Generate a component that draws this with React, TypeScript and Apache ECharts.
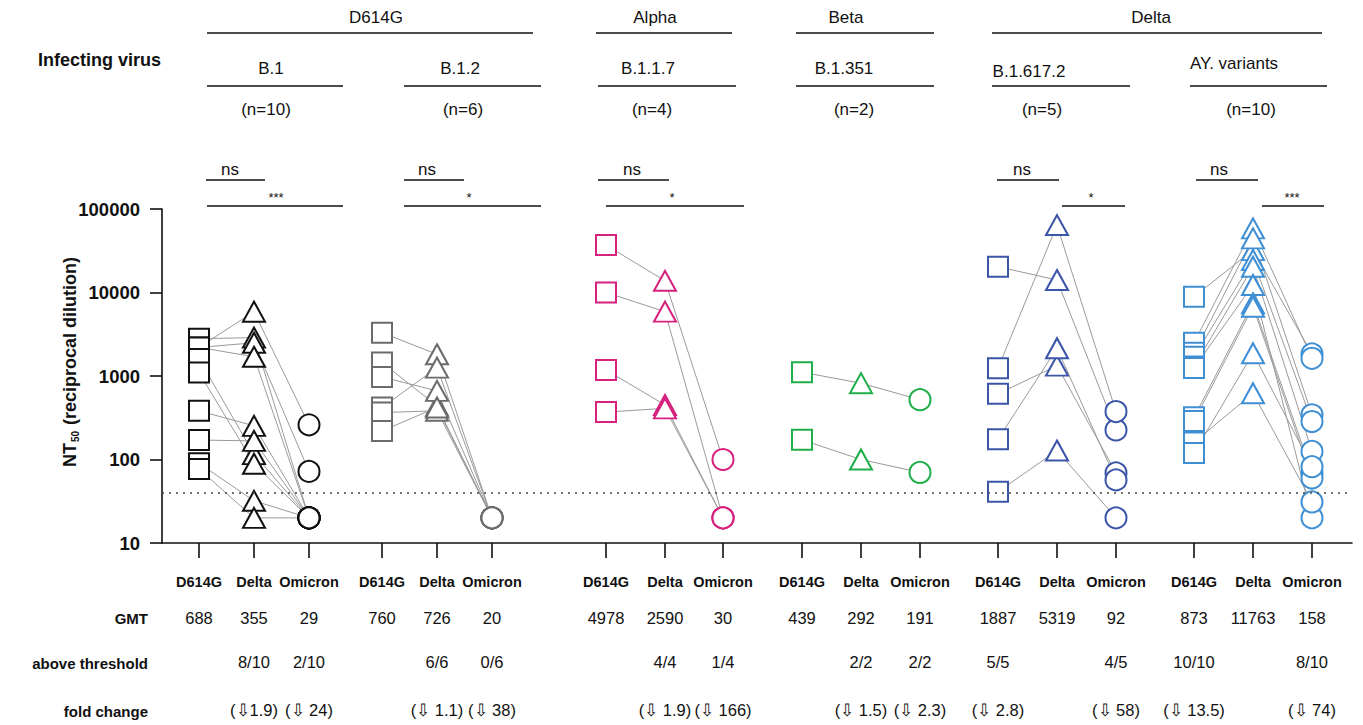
import React, { useEffect, useRef } from 'react';
import * as echarts from 'echarts';

// ---------- data ----------
const categories = ['D614G', 'Delta', 'Omicron'];
const virusFamilies = ['D614G', 'Alpha', 'Beta', 'Delta'];
const virusGroups = ['B.1', 'B.1.2', 'B.1.1.7', 'B.1.351', 'B.1.617.2', 'AY. variants'];
const sampleCounts = ['(n=10)', '(n=6)', '(n=4)', '(n=2)', '(n=5)', '(n=10)'];
const yTicks = [10, 100, 1000, 10000, 100000];
const threshold = 40;

// B.1 (n=10)
const b1D614G = [2200, 2800, 2200, 2200, 1600, 1100, 383, 171, 90, 77];
const b1Delta = [5890, 2880, 2500, 1700, 116, 89, 253, 167, 32, 20];
const b1Omicron = [260, 20, 72, 20, 20, 20, 20, 20, 20, 20];
// B.1.2 (n=6)
const b12D614G = [3300, 1450, 975, 419, 365, 220];
const b12Delta = [1820, 439, 663, 1260, 383, 420];
const b12Omicron = [20, 20, 20, 20, 20, 20];
// B.1.1.7 (n=4)
const b117D614G = [37000, 10000, 1180, 370];
const b117Delta = [13800, 5900, 450, 410];
const b117Omicron = [100, 20, 20, 20];
// B.1.351 (n=2)
const b1351D614G = [1110, 172];
const b1351Delta = [820, 100];
const b1351Omicron = [520, 70];
// B.1.617.2 (n=5)
const b16172D614G = [20370, 1240, 611, 175, 41];
const b16172Delta = [14100, 64200, 1330, 2150, 128];
const b16172Omicron = [226, 375, 69, 57, 20];
// AY. variants (n=10)
const ayD614G = [8900, 2500, 1900, 1700, 1300, 1250, 320, 290, 160, 120];
const ayDelta = [32200, 58600, 44500, 24500, 20370, 12300, 7430, 6760, 622, 1875];
const ayOmicron = [1840, 1630, 343, 285, 125, 20, 69, 60, 31, 82];

const gmtValues = ['688', '355', '29', '760', '726', '20', '4978', '2590', '30', '439', '292', '191', '1887', '5319', '92', '873', '11763', '158'];
const aboveThreshold = ['', '8/10', '2/10', '', '6/6', '0/6', '', '4/4', '1/4', '', '2/2', '2/2', '5/5', '', '4/5', '10/10', '', '8/10'];
const foldChange = ['', '(\u21E91.9)', '(\u21E9 24)', '', '(\u21E9 1.1)', '(\u21E9 38)', '', '(\u21E9 1.9)', '(\u21E9 166)', '', '(\u21E9 1.5)', '(\u21E9 2.3)', '(\u21E9 2.8)', '', '(\u21E9 58)', '(\u21E9 13.5)', '', '(\u21E9 74)'];

// ---------- layout / style ----------
const columnX = [199, 254, 309, 382, 437, 492, 606, 665, 723, 802, 861, 920, 998, 1057, 1116, 1194, 1253, 1312];
const groupColors = ['#111111', '#6b6b6b', '#d6217e', '#1fae4a', '#3b55a8', '#3f8fd4'];
const symbols = ['rect', 'triangle', 'circle'];
const symbolSizes: any[] = [[20, 20], [22, 20], 21];
const FONT = '"Liberation Sans Narrow", "Arial Narrow", "Liberation Sans", Arial, sans-serif';
const FONT_W = '"Liberation Sans", Arial, sans-serif';

const groupData = [
  [b1D614G, b1Delta, b1Omicron],
  [b12D614G, b12Delta, b12Omicron],
  [b117D614G, b117Delta, b117Omicron],
  [b1351D614G, b1351Delta, b1351Omicron],
  [b16172D614G, b16172Delta, b16172Omicron],
  [ayD614G, ayDelta, ayOmicron],
];

function buildSeries() {
  const series: any[] = [];
  groupData.forEach((g, gi) => {
    const n = g[0].length;
    for (let i = 0; i < n; i++) {
      series.push({
        type: 'line',
        silent: true,
        symbol: 'none',
        z: 1,
        lineStyle: { color: '#9a9a9a', width: 1 },
        data: [0, 1, 2].map((k) => [columnX[gi * 3 + k], g[k][i]]),
      });
    }
  });
  groupData.forEach((g, gi) => {
    [0, 1, 2].forEach((k) => {
      const s: any = {
        type: 'scatter',
        name: `${virusGroups[gi]} ${categories[k]}`,
        symbol: symbols[k],
        symbolSize: symbolSizes[k],
        z: 3,
        itemStyle: { color: '#ffffff', borderColor: groupColors[gi], borderWidth: 2, opacity: 1 },
        data: g[k].map((v) => [columnX[gi * 3 + k], v]),
      };
      if (gi === 0 && k === 0) {
        s.markLine = {
          silent: true,
          symbol: 'none',
          label: { show: false },
          lineStyle: { type: [2, 5], color: '#444', width: 1.5 },
          data: [{ yAxis: threshold }],
        };
      }
      series.push(s);
    });
  });
  return series;
}

function txt(text: string, x: number, y: number, opts: any = {}) {
  return {
    type: 'text',
    x,
    y,
    silent: true,
    style: {
      text,
      fill: '#111',
      font: opts.font || `17px ${FONT}`,
      textAlign: opts.align || 'center',
      textVerticalAlign: 'middle',
    },
  };
}
function hline(x1: number, x2: number, y: number, w = 1.6) {
  return { type: 'line', silent: true, shape: { x1, y1: y, x2, y2: y }, style: { stroke: '#111', lineWidth: w } };
}

function buildGraphic() {
  const g: any[] = [];
  // family row
  const fam = [
    { x: 376, l: 207, r: 533 },
    { x: 655, l: 596, r: 732 },
    { x: 846, l: 796, r: 934 },
    { x: 1151, l: 992, r: 1322 },
  ];
  fam.forEach((f, i) => {
    g.push(txt(virusFamilies[i], f.x, 17));
    g.push(hline(f.l, f.r, 33));
  });
  g.push(txt('Infecting virus', 38, 60, { align: 'left', font: `bold 18px ${FONT}` }));
  const grp = [
    { x: 271, y: 68, l: 207, r: 343, n: 266 },
    { x: 460, y: 68, l: 404, r: 541, n: 463 },
    { x: 648, y: 68, l: 598, r: 736, n: 652 },
    { x: 844, y: 68, l: 796, r: 934, n: 854 },
    { x: 1029, y: 71, l: 992, r: 1130, n: 1042 },
    { x: 1234, y: 63, l: 1190, r: 1327, n: 1251 },
  ];
  grp.forEach((p, i) => {
    g.push(txt(virusGroups[i], p.x, p.y));
    g.push(hline(p.l, p.r, 86));
    g.push(txt(sampleCounts[i], p.n, 109));
  });
  // significance
  const ns = [
    { t: 230, l: 206, r: 265 },
    { t: 427, l: 404, r: 464 },
    { t: 632, l: 598, r: 669 },
    { t: 1022, l: 997, r: 1059 },
    { t: 1219, l: 1196, r: 1258 },
  ];
  ns.forEach((p) => {
    g.push(txt('ns', p.t, 169));
    g.push(hline(p.l, p.r, 180));
  });
  const stars = [
    { s: '***', t: 276, l: 207, r: 343 },
    { s: '*', t: 469, l: 404, r: 541 },
    { s: '*', t: 672, l: 606, r: 744 },
    { s: '*', t: 1091, l: 1062, r: 1125 },
    { s: '***', t: 1292, l: 1262, r: 1324 },
  ];
  stars.forEach((p) => {
    g.push(txt(p.s, p.t, 197, { font: `13px ${FONT}` }));
    g.push(hline(p.l, p.r, 206));
  });
  // row headings
  g.push(txt('GMT', 148, 618, { align: 'right', font: `bold 15px ${FONT}` }));
  g.push(txt('above threshold', 148, 663, { align: 'right', font: `bold 15px ${FONT}` }));
  g.push(txt('fold change', 148, 711, { align: 'right', font: `bold 15px ${FONT}` }));
  // y axis title
  g.push({
    type: 'text',
    x: 70,
    y: 362,
    rotation: Math.PI / 2,
    silent: true,
    style: {
      text: '{b|NT}{s|50}{b| (reciprocal dilution)}',
      textAlign: 'center',
      textVerticalAlign: 'middle',
      fill: '#111',
      rich: {
        b: { font: `bold 18px ${FONT}`, fill: '#111' },
        s: { font: `bold 10px ${FONT}`, fill: '#111', padding: [10, 1, 0, 1] },
      },
    },
  });
  return g;
}

export default function App() {
  const ref = useRef<HTMLDivElement>(null);
  useEffect(() => {
    if (!ref.current) return;
    const chart = echarts.init(ref.current, undefined, { renderer: 'svg' });
    chart.setOption({
      animation: false,
      backgroundColor: '#ffffff',
      grid: { left: 162, right: 11, top: 209, bottom: 182, containLabel: false },
      xAxis: {
        type: 'value',
        min: 162,
        max: 1352,
        splitLine: { show: false },
        axisLine: { show: true, lineStyle: { color: '#111', width: 1.6 } },
        axisTick: { show: true, customValues: columnX, length: 15, lineStyle: { color: '#111', width: 1.6 } },
        axisLabel: {
          show: true,
          customValues: columnX,
          margin: 24,
          color: '#111',
          formatter: (v: number) => {
            const i = columnX.indexOf(v);
            if (i < 0) return '';
            return `{c|${categories[i % 3]}}\n{g|${gmtValues[i]}}\n{t|${aboveThreshold[i] || ' '}}\n{f|${foldChange[i] || ' '}}`;
          },
          rich: {
            c: { fontFamily: FONT, fontWeight: 'bold', fontSize: 14.5, lineHeight: 30, color: '#111' },
            g: { fontFamily: FONT, fontSize: 16.5, lineHeight: 42, color: '#111' },
            t: { fontFamily: FONT, fontSize: 16.5, lineHeight: 46, color: '#111' },
            f: { fontFamily: FONT, fontSize: 16.5, lineHeight: 50, color: '#111' },
          },
        },
      },
      yAxis: {
        type: 'log',
        logBase: 10,
        min: 10,
        max: 100000,
        splitLine: { show: false },
        minorTick: { show: false },
        axisLine: { show: true, lineStyle: { color: '#111', width: 1.6 } },
        axisTick: { show: true, length: 12, lineStyle: { color: '#111', width: 1.6 } },
        axisLabel: {
          margin: 22,
          color: '#111',
          fontFamily: FONT_W,
          fontWeight: 'bold',
          fontSize: 18.5,
          formatter: (v: number) => (yTicks.includes(Math.round(v)) ? String(Math.round(v)) : ''),
        },
      },
      series: buildSeries(),
      graphic: buildGraphic(),
    });
    return () => chart.dispose();
  }, []);
  return (
    <div
      ref={ref}
      style={{ position: 'fixed', left: 0, top: 0, width: 1363, height: 725, background: '#fff' }}
    />
  );
}
